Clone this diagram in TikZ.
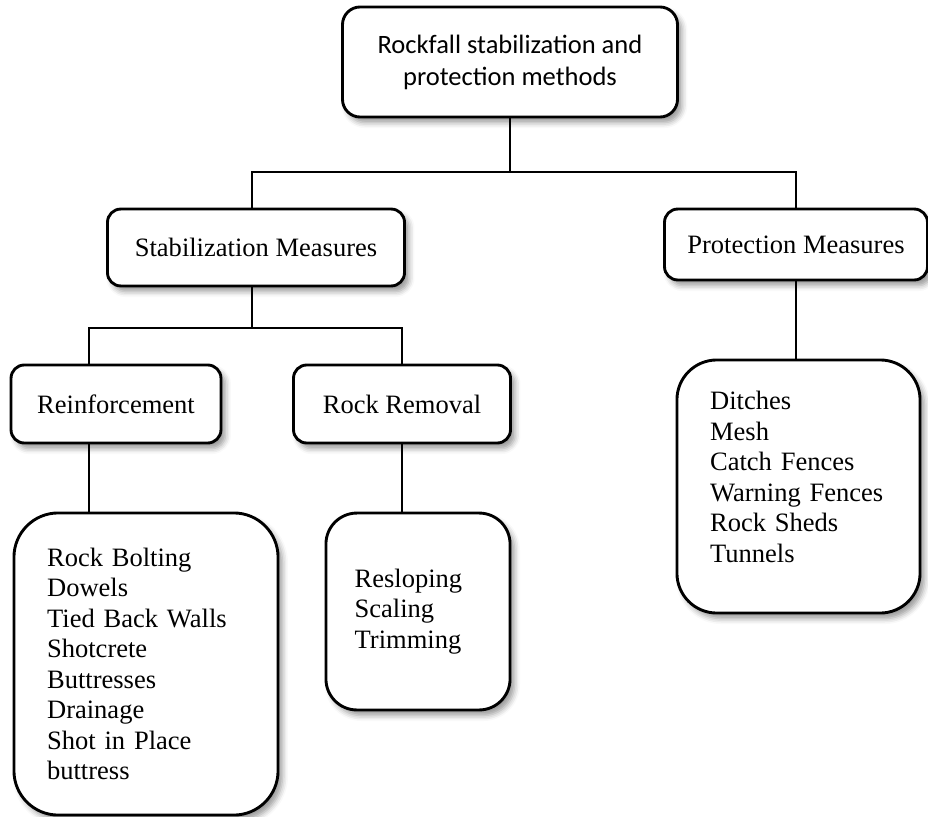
\documentclass[tikz,border=0pt]{standalone}
\usepackage{fontspec}
\setmainfont{Liberation Serif}
\newfontfamily\calibrifont{Carlito}
\usetikzlibrary{shadows.blur}
\begin{document}
\begin{tikzpicture}[x=0.4525pt,y=-0.4525pt,
  every node/.style={font=\fontsize{12}{13.8}\selectfont},
  box/.style={draw,line width=1.3pt,fill=white,rounded corners=6pt,inner sep=0pt,
    blur shadow={shadow xshift=2pt,shadow yshift=-2.5pt,shadow blur radius=2.5pt}},
  listbox/.style={box,align=left,inner xsep=15pt},
  link/.style={line width=1pt}]
\useasboundingbox (0,0) rectangle (928,816);
\node[box,font=\calibrifont\fontsize{12}{14.5}\selectfont,align=center,minimum width=151.6pt,minimum height=49.8pt,rounded corners=8pt] (top) at (510,62) {Rockfall stabilization and\\protection methods};
\node[box,minimum width=134.4pt,minimum height=34.8pt] (stab) at (256,247.5) {Stabilization Measures};
\node[box,minimum width=119pt,minimum height=32.1pt] (prot) at (796,244.5) {Protection Measures};
\node[box,minimum width=95pt,minimum height=35.3pt] (reinf) at (116,404) {Reinforcement};
\node[box,minimum width=98.2pt,minimum height=35.3pt] (rockrem) at (402,404) {Rock Removal};
\node[listbox,text width=89.5pt,minimum height=136.7pt,rounded corners=20pt] (bolting) at (146,664) {Rock Bolting\\Dowels\\Tied Back Walls\\Shotcrete\\Buttresses\\Drainage\\Shot in Place\\buttress};
\node[listbox,inner xsep=13pt,text width=57.3pt,minimum height=89.1pt,rounded corners=14pt] (reslope) at (418,611.5) {Resloping\\Scaling\\Trimming};
\node[listbox,text width=80pt,minimum height=114.5pt,rounded corners=18pt] (ditches) at (798.5,486.5) {Ditches\\Mesh\\Catch Fences\\Warning Fences\\Rock Sheds\\Tunnels\rule[-9pt]{0pt}{9pt}};
\coordinate (j1) at (510,172);
\coordinate (j2) at (252,328);
\coordinate (j3) at (89,470);
\draw[link] (top) -- (j1);
\draw[link] (stab.north -| j2) |- (j1) -| (prot.north);
\draw[link] (stab.south -| j2) -- (j2);
\draw[link] (reinf.north -| j3) |- (j2) -| (rockrem.north);
\draw[link] (reinf.south -| j3) -- (bolting.north -| j3);
\draw[link] (rockrem.south) -- (rockrem.south |- reslope.north);
\draw[link] (prot.south) -- (prot.south |- ditches.north);
\end{tikzpicture}
\end{document}
